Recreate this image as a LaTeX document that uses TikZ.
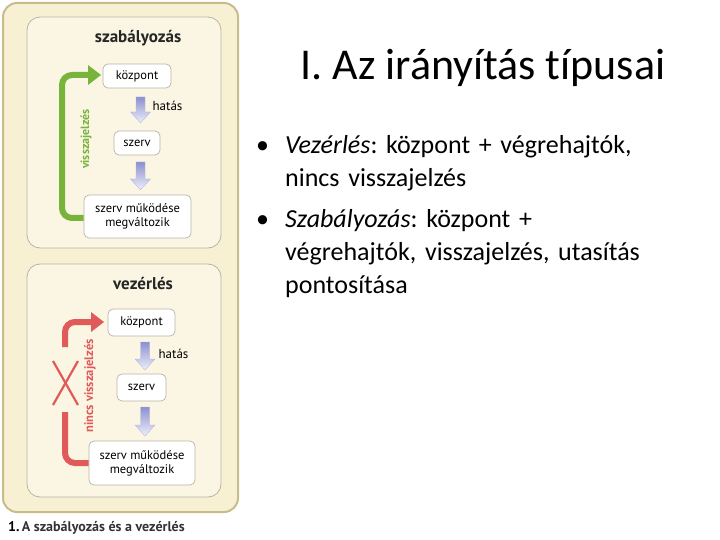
\documentclass[tikz,border=0pt]{standalone}
\usepackage{fontspec}
\setmainfont[Ligatures=NoCommon]{Carlito}
\newfontfamily\diagfont{PT Sans}
\usetikzlibrary{arrows.meta}
\definecolor{outerfill}{HTML}{F8F0D2}
\definecolor{outerdraw}{HTML}{C8BC8C}
\definecolor{innerfill}{HTML}{FBF6E4}
\definecolor{innerdraw}{HTML}{B8B4A8}
\definecolor{fbgreen}{HTML}{78B43C}
\definecolor{fbred}{HTML}{E05A5A}
\definecolor{arrtop}{HTML}{8C90D0}
\definecolor{arrbot}{HTML}{EEF0FA}
\tikzset{
  panel/.style={draw=innerdraw, fill=innerfill, line width=0.8pt, rounded corners=13pt},
  boxnode/.style={draw=innerdraw, fill=white, line width=0.7pt, rounded corners=5pt, font=\diagfont\fontsize{12.5}{14}\selectfont, align=center, inner sep=0pt},
  headtxt/.style={font=\diagfont\bfseries\fontsize{17}{18}\selectfont, text=black!85},
  hatastxt/.style={font=\diagfont\fontsize{13}{14}\selectfont},
  fbline/.style={line width=6pt, rounded corners=10pt},
}
\newcommand{\downarrowshape}[3]{% x, ytop, ybot
  \shade[top color=arrtop, bottom color=arrbot, draw=arrtop!70, line width=0.3pt]
    ({#1-4.5},#2) -- ({#1+4.5},#2) -- ({#1+4.5},{#3-11}) -- ({#1+10},{#3-11}) -- (#1,#3) -- ({#1-10},{#3-11}) -- ({#1-4.5},{#3-11}) -- cycle;
}
\begin{document}
\frenchspacing
\begin{tikzpicture}[x=1pt,y=-1pt]
\useasboundingbox (0,0) rectangle (720,540);
% outer panel
\draw[draw=outerdraw, fill=outerfill, line width=2pt, rounded corners=14pt] (3,3) rectangle (238,512);
% inner panels
\draw[panel] (27,17) rectangle (221,248);
\draw[panel] (27,264) rectangle (221,497);

% ---- top: szabályozás
\node[headtxt] (h1) at (138,38) {szabályozás};
\node[boxnode, minimum width=68pt, minimum height=24pt] (k1) at (137,76) {központ};
\node[boxnode, minimum width=46pt, minimum height=24pt] (s1) at (137,143) {szerv};
\node[boxnode, minimum width=107pt, minimum height=43pt] (m1) at (137.5,216.5) {szerv működése\\megváltozik};
\downarrowshape{140.5}{97}{123}
\node[hatastxt, anchor=west] (ht1) at (149,106) {hatás};
\downarrowshape{140.5}{162}{190}
\coordinate (g1) at (62,218);
\coordinate (g2) at (62,75);
\draw[fbline, draw=fbgreen] (m1.west |- 0,218) -- (g1) -- (g2) -- (90,75);
\fill[fbgreen] (88,65) -- (101,75) -- (88,85) -- cycle;
\node[rotate=90, font=\diagfont\bfseries\fontsize{12}{13}\selectfont, text=fbgreen] (v1) at (86,139) {visszajelzés};

% ---- bottom: vezérlés
\node[headtxt] (h2) at (143,283) {vezérlés};
\node[boxnode, minimum width=67pt, minimum height=27pt] (k2) at (141.5,322.5) {központ};
\node[boxnode, minimum width=49pt, minimum height=27pt] (s2) at (141.5,387.5) {szerv};
\node[boxnode, minimum width=106pt, minimum height=44pt] (m2) at (142,463) {szerv működése\\megváltozik};
\downarrowshape{145}{342}{370}
\node[hatastxt, anchor=west] (ht2) at (155,354) {hatás};
\downarrowshape{145}{407}{436}
\draw[fbline, draw=fbred] (m2.west |- 0,463) -- (65,463) -- (65,412);
\draw[fbline, draw=fbred] (65,347) -- (65,322) -- (93,322);
\fill[fbred] (91,312) -- (104,322) -- (91,332) -- cycle;
\draw[fbred, line width=2.2pt] (53,361) -- (78,405);
\draw[fbred, line width=2.2pt] (78,361) -- (53,405);
\node[rotate=90, font=\diagfont\bfseries\fontsize{12.5}{13}\selectfont, text=fbred] (v2) at (90,386) {nincs visszajelzés};

% caption
\node[anchor=west, font=\diagfont\bfseries\fontsize{14}{15}\selectfont, text=black!80, inner sep=0pt] (cap) at (8,528) {\textcolor{black}{1.}\,A szabályozás és a vezérlés};

% ---- right: text
\node[font=\fontsize{44}{48}\selectfont] (title) at (483,68) {I. Az irányítás típusai};
\node[anchor=north west, align=left, text width=440pt, font=\fontsize{26}{33}\selectfont, inner sep=0pt] (bl) at (256,135) {%
\makebox[29pt][l]{•}\textit{Vezérlés}: központ + végrehajtók,\\
\hspace*{29pt}nincs visszajelzés\\[8pt]
\makebox[29pt][l]{•}\textit{Szabályozás}: központ +\\
\hspace*{29pt}végrehajtók, visszajelzés, utasítás\\
\hspace*{29pt}pontosítása};
\end{tikzpicture}
\end{document}
